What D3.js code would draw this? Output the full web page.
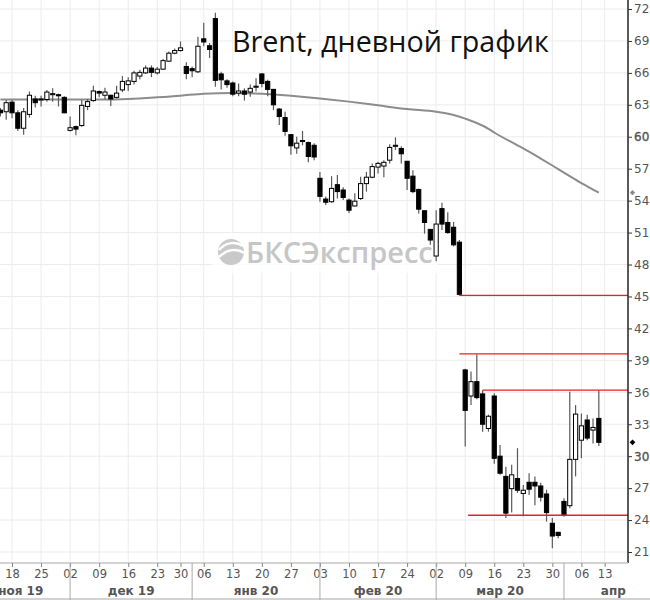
<!DOCTYPE html>
<html><head><meta charset="utf-8">
<script src="https://cdn.jsdelivr.net/npm/d3@7"></script>
<style>html,body{margin:0;padding:0;background:#fff;}svg{display:block;}</style>
</head><body>
<svg id="c" width="650" height="600"></svg>
<script>
// ---------- data ----------
const leadDays = ["2019-11-07","2019-11-08","2019-11-11","2019-11-12","2019-11-13"];
const candleDates = [
"2019-11-14","2019-11-15","2019-11-18","2019-11-19","2019-11-20","2019-11-21","2019-11-22","2019-11-25","2019-11-26","2019-11-27","2019-11-28","2019-11-29",
"2019-12-02","2019-12-03","2019-12-04","2019-12-05","2019-12-06","2019-12-09","2019-12-10","2019-12-11","2019-12-12","2019-12-13","2019-12-16","2019-12-17","2019-12-18","2019-12-19","2019-12-20","2019-12-23","2019-12-24","2019-12-26","2019-12-27","2019-12-30","2019-12-31",
"2020-01-02","2020-01-03","2020-01-06","2020-01-07","2020-01-08","2020-01-09","2020-01-10","2020-01-13","2020-01-14","2020-01-15","2020-01-16","2020-01-17","2020-01-20","2020-01-21","2020-01-22","2020-01-23","2020-01-24","2020-01-27","2020-01-28","2020-01-29","2020-01-30","2020-01-31",
"2020-02-03","2020-02-04","2020-02-05","2020-02-06","2020-02-07","2020-02-10","2020-02-11","2020-02-12","2020-02-13","2020-02-14","2020-02-17","2020-02-18","2020-02-19","2020-02-20","2020-02-21","2020-02-24","2020-02-25","2020-02-26","2020-02-27","2020-02-28",
"2020-03-02","2020-03-03","2020-03-04","2020-03-05","2020-03-06","2020-03-09","2020-03-10","2020-03-11","2020-03-12","2020-03-13","2020-03-16","2020-03-17","2020-03-18","2020-03-19","2020-03-20","2020-03-23","2020-03-24","2020-03-25","2020-03-26","2020-03-27","2020-03-30","2020-03-31",
"2020-04-01","2020-04-02","2020-04-03","2020-04-06","2020-04-07","2020-04-08","2020-04-09"];
const tailDays = ["2020-04-13","2020-04-14","2020-04-15","2020-04-16","2020-04-17","2020-04-20","2020-04-21","2020-04-22","2020-04-23","2020-04-24"];

const openV = [62.5,62.35,63.25,62.25,60.8,62.1,63.55,63.5,63.5,63.95,63.95,63.7,
 60.6,60.95,61.05,62.85,63.4,64.25,63.9,63.9,63.7,64.4,64.9,65.2,65.7,66.0,66.45,66.0,66.35,67.1,67.85,68.1,66.6,
 66.4,66.1,69.2,68.55,71.1,65.9,65.25,65.05,64.1,64.3,64.2,64.65,65.9,65.2,64.45,62.6,61.8,60.2,58.95,59.55,59.45,59.2,
 56.1,54.15,53.9,55.5,55.0,54.05,53.5,54.2,55.6,56.2,57.15,57.25,57.8,59.1,58.9,57.7,56.3,55.05,53.05,51.3,
 48.8,53.25,51.95,51.5,50.1,38.1,35.65,37.0,35.85,32.6,35.65,30.0,28.1,26.95,27.9,26.5,27.55,27.55,27.2,26.45,23.7,22.85,
 25.75,25.35,29.7,31.5,33.4,32.45,33.55];
const highV = [62.7,63.45,63.45,62.5,62.7,64.25,63.85,63.85,64.4,64.55,64.05,63.8,
 61.9,61.05,63.45,63.55,64.8,64.35,64.6,63.95,64.8,65.7,65.6,66.2,66.3,66.7,66.7,66.55,67.3,68.0,68.3,68.95,67.0,
 66.6,69.4,70.7,68.8,71.65,66.1,65.4,65.2,65.0,64.55,64.9,65.5,66.0,65.35,64.5,62.7,62.35,60.25,60.0,60.55,59.55,59.4,
 56.7,54.4,56.3,56.4,55.25,54.2,54.7,56.25,56.7,57.5,57.65,57.8,59.3,59.95,59.1,57.7,56.85,55.15,53.1,51.3,
 53.1,53.8,52.9,52.0,50.3,38.2,37.95,39.55,36.2,33.9,35.9,31.05,29.0,29.2,30.75,27.3,28.4,28.1,27.5,26.85,24.2,22.9,
 26.05,36.05,34.8,34.0,33.9,33.55,36.2];
const lowV = [61.9,61.6,61.75,60.55,60.2,61.8,62.75,62.85,63.3,63.3,62.85,62.2,
 60.5,60.15,60.95,62.5,63.3,63.7,63.5,62.9,63.6,64.2,64.3,64.9,65.4,65.9,65.6,65.85,66.3,67.05,67.75,68.0,65.4,
 65.6,66.0,68.5,67.4,64.7,64.45,64.6,63.8,63.8,63.4,63.75,64.25,64.65,63.8,62.5,61.1,60.1,58.3,58.4,59.2,57.6,57.8,
 53.9,53.6,53.8,54.2,54.05,52.85,53.45,54.05,54.85,56.1,56.55,56.2,57.5,58.75,57.5,55.0,54.7,52.8,50.9,49.85,
 48.3,51.25,50.9,49.7,45.1,30.9,34.8,35.35,32.3,32.3,29.3,28.25,24.2,24.7,26.55,24.35,26.35,25.4,25.75,23.85,21.35,22.3,
 24.3,25.1,28.1,29.8,31.5,31.2,30.95];
const closeV = [62.25,63.2,62.25,60.8,62.35,63.9,63.2,63.55,64.2,64.05,63.85,62.25,
 60.85,60.72,62.95,63.3,64.3,64.1,64.2,63.55,64.1,65.2,65.25,66.0,66.05,66.45,66.05,66.35,67.15,67.85,68.1,68.35,65.95,
 66.2,68.5,68.9,68.2,65.3,65.35,64.9,64.0,64.3,64.0,64.55,64.75,65.0,64.45,63.0,61.9,60.5,59.15,59.4,59.65,58.15,58.1,
 54.4,53.85,55.15,54.85,54.3,53.1,53.95,55.6,56.2,57.2,57.5,57.6,59.0,59.2,58.4,56.1,54.85,53.2,51.95,50.3,
 51.8,51.8,51.0,49.85,45.2,34.3,37.0,35.5,33.0,33.75,29.8,28.4,24.65,28.25,26.8,26.8,26.9,27.2,26.15,24.7,22.5,22.55,
 24.5,29.7,33.95,32.85,31.7,32.7,31.3];

const maDates = ["2019-11-14","2019-11-25","2019-12-09","2019-12-16","2019-12-23","2019-12-30","2020-01-06","2020-01-13","2020-01-20","2020-01-27","2020-02-03","2020-02-10","2020-02-17","2020-02-24","2020-03-02","2020-03-05","2020-03-09","2020-03-13","2020-03-16","2020-03-20","2020-03-23","2020-03-26","2020-03-30","2020-04-02","2020-04-06","2020-04-09"];
const maValues = [63.5,63.5,63.5,63.55,63.7,63.85,64.05,64.1,64.05,63.85,63.6,63.3,62.95,62.6,62.35,62.05,61.7,60.75,60.4,59.2,58.9,57.95,57.3,56.3,55.65,54.75];

const levelValues = [45.1, 39.6, 36.2, 24.45];
const levelStarts = ["2020-03-06","2020-03-06","2020-03-12","2020-03-09"];

const yTicks = [21,24,27,30,33,36,39,42,45,48,51,54,57,60,63,66,69,72];
const xTickDates = ["2019-11-18","2019-11-25","2019-12-02","2019-12-09","2019-12-16","2019-12-23","2019-12-30","2020-01-06","2020-01-13","2020-01-20","2020-01-27","2020-02-03","2020-02-10","2020-02-17","2020-02-24","2020-03-02","2020-03-09","2020-03-16","2020-03-23","2020-03-30","2020-04-06","2020-04-13"];
const monthKeys = ["2019-11","2019-12","2020-01","2020-02","2020-03","2020-04"];
const monthLabels = ["ноя 19","дек 19","янв 20","фев 20","мар 20","апр"];
const titleText = "Brent, дневной график";
const watermarkText = "БКСЭкспресс";

// ---------- layout ----------
const AX = 628, XB = 563, STEP = 5.81, X0 = 0.4;
const slots = leadDays.concat(candleDates, tailDays);
const x = d3.scalePoint().domain(slots)
  .range([X0 - leadDays.length*STEP, X0 + (slots.length - 1 - leadDays.length)*STEP]);
const y = d3.scaleLinear().domain([21,72]).range([552,9]);

const svg = d3.select("#c");
svg.append("defs").append("clipPath").attr("id","plot")
  .append("rect").attr("x",0).attr("y",0).attr("width",AX).attr("height",XB);

// gridlines
const grid = svg.append("g");
grid.selectAll("line.h").data(yTicks).join("line")
  .attr("x1",0).attr("x2",AX).attr("y1",d=>y(d)).attr("y2",d=>y(d))
  .attr("stroke","#ececec").attr("stroke-width",1);
grid.selectAll("line.v").data(xTickDates).join("line")
  .attr("x1",d=>x(d)).attr("x2",d=>x(d)).attr("y1",0).attr("y2",XB)
  .attr("stroke","#ececec").attr("stroke-width",1);

// watermark
const wm = svg.append("g");
wm.append("rect").attr("x",212).attr("y",233).attr("width",226).attr("height",40).attr("fill","#fff").attr("opacity",0.75);
wm.append("circle").attr("cx",231).attr("cy",252).attr("r",13).attr("fill","#c9c9c9");
wm.append("path").attr("d","M219,250 C226,242 236,241 243,246").attr("stroke","#fff").attr("stroke-width",2.5).attr("fill","none");
wm.append("path").attr("d","M219,257 C227,249 237,248 244,253").attr("stroke","#fff").attr("stroke-width",2.5).attr("fill","none");
wm.append("text").attr("x",246).attr("y",263).text(watermarkText)
  .attr("font-family","'Open Sans', sans-serif").attr("font-weight",600).attr("font-size",29).attr("fill","#c6c6c6");

// title
svg.append("text").attr("x",232).attr("y",52).text(titleText)
  .attr("font-family","'Open Sans', sans-serif").attr("font-size",28.7).attr("fill","#111");

const plot = svg.append("g").attr("clip-path","url(#plot)");

// moving average
plot.append("path")
  .attr("d", d3.line().x((d,i)=>x(maDates[i])).y(d=>y(d)).curve(d3.curveMonotoneX)(maValues))
  .attr("fill","none").attr("stroke","#8c8c8c").attr("stroke-width",2);

// candles
const cd = candleDates.map((d,i)=>({d, o:openV[i], h:highV[i], l:lowV[i], c:closeV[i]}));
const BW = 4.2;
plot.selectAll("line.wick").data(cd).join("line")
  .attr("x1",d=>x(d.d)).attr("x2",d=>x(d.d)).attr("y1",d=>y(d.h)).attr("y2",d=>y(d.l))
  .attr("stroke","#5a5a5a").attr("stroke-width",1.2);
plot.selectAll("rect.body").data(cd).join("rect")
  .attr("x",d=>x(d.d)-BW/2).attr("width",BW)
  .attr("y",d=>y(Math.max(d.o,d.c)))
  .attr("height",d=>Math.max(1, Math.abs(y(d.o)-y(d.c))))
  .attr("fill",d=>d.c>=d.o ? "#fff" : "#000")
  .attr("stroke","#000").attr("stroke-width",1);

// level lines
const levelShift = [0,0,0,0.5];
plot.selectAll("line.lvl").data(levelValues).join("line")
  .attr("x1",(d,i)=>x(levelStarts[i]) + levelShift[i]*STEP).attr("x2",AX)
  .attr("y1",d=>y(d)).attr("y2",d=>y(d))
  .attr("stroke","#f01e1e").attr("stroke-width",1.3);

// y axis
svg.append("line").attr("x1",AX).attr("x2",AX).attr("y1",0).attr("y2",XB).attr("stroke","#222").attr("stroke-width",1.5);
const yAx = svg.append("g").attr("transform",`translate(${AX},0)`)
  .call(d3.axisRight(y).tickValues(yTicks).tickSize(4).tickPadding(2).tickFormat(d3.format("d")));
yAx.select(".domain").remove();
yAx.selectAll(".tick line").attr("stroke","#333");
yAx.selectAll(".tick text").attr("font-family","'DejaVu Sans', sans-serif").attr("font-size",12).attr("fill","#555")
  .attr("stroke",d=>(d===60||d===30)?"#555":"none").attr("stroke-width",0.35);

// markers
const lastMA = maValues[maValues.length-1], lastClose = closeV[closeV.length-1];
svg.append("path").attr("d",d3.symbol(d3.symbolSquare,14)()).attr("transform",`translate(${AX+4.5},${y(lastMA)}) rotate(45)`).attr("fill","#8c8c8c");
svg.append("path").attr("d",d3.symbol(d3.symbolSquare,16)()).attr("transform",`translate(${AX+4.5},${y(lastClose)}) rotate(45)`).attr("fill","#000");

// x axis
svg.append("line").attr("x1",0).attr("x2",AX).attr("y1",XB).attr("y2",XB).attr("stroke","#c4c4c4").attr("stroke-width",1.5);
svg.append("line").attr("x1",0).attr("x2",650).attr("y1",599).attr("y2",599).attr("stroke","#c4c4c4").attr("stroke-width",1.5);
const xAx = svg.append("g").attr("transform",`translate(0,${XB})`)
  .call(d3.axisBottom(x).tickValues(xTickDates).tickSize(4).tickPadding(3).tickFormat(d=>d.slice(8)));
xAx.select(".domain").remove();
xAx.selectAll(".tick line").attr("stroke","#888");
xAx.selectAll(".tick text").attr("font-family","'DejaVu Sans', sans-serif").attr("font-size",11.5).attr("fill","#555");

// month separators & labels
const months = monthKeys.map((k,i)=>{
  const ds = slots.filter(s=>s.startsWith(k));
  return {label: monthLabels[i], first: ds[0], last: ds[ds.length-1]};
});
svg.selectAll("line.msep").data(months.slice(1)).join("line")
  .attr("x1",d=>x(d.first)).attr("x2",d=>x(d.first)).attr("y1",XB).attr("y2",600)
  .attr("stroke","#aaa").attr("stroke-width",1);
svg.selectAll("text.mlab").data(months).join("text")
  .attr("x",d=>(x(d.first)+x(d.last)+STEP)/2).attr("y",595).attr("text-anchor","middle")
  .text(d=>d.label)
  .attr("font-family","'DejaVu Sans', sans-serif").attr("font-weight","bold").attr("font-size",12).attr("fill","#555");
</script>
</body></html>
